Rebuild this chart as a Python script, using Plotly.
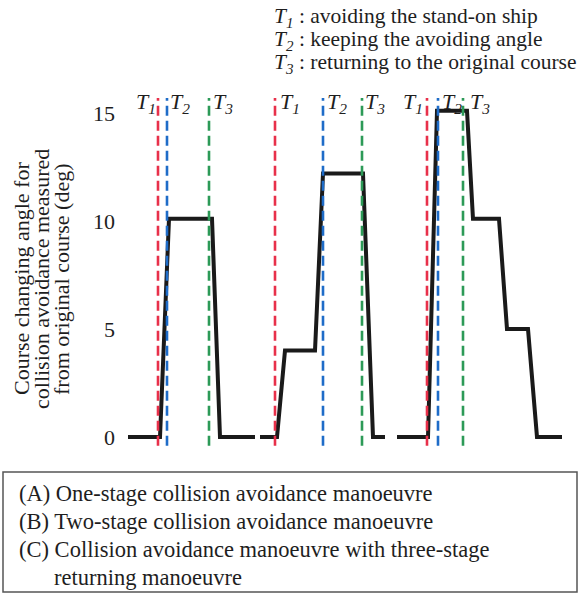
import plotly.graph_objects as go

# Course-change profiles (time in arbitrary units, angle in degrees)
time_a = [1.0, 4.2, 5.1, 9.4, 10.2, 13.7]
angle_a = [0, 0, 10.1, 10.1, 0, 0]

time_b = [14.2, 15.9, 16.7, 19.7, 20.5, 24.5, 25.5, 26.7]
angle_b = [0, 0, 4.0, 4.0, 12.2, 12.2, 0, 0]

time_c = [27.9, 31.0, 31.9, 34.9, 35.5, 38.1, 38.9, 41.0, 41.9, 44.4]
angle_c = [0, 0, 15.1, 15.1, 10.1, 10.1, 5.0, 5.0, 0, 0]

# Event times T1, T2, T3 for each manoeuvre
t1_times = [4.0, 15.7, 30.9]
t2_times = [4.9, 20.5, 32.0]
t3_times = [9.1, 24.4, 34.5]

y_ticks = [0, 5, 10, 15]
panel_labels = ["(A)", "(B)", "(C)"]
panel_centres = [6.7, 21.4, 36.0]

legend_lines = [
    "<i>T</i><sub><i>1</i></sub> : avoiding the stand-on ship",
    "<i>T</i><sub><i>2</i></sub> : keeping the avoiding angle",
    "<i>T</i><sub><i>3</i></sub> : returning to the original course",
]
caption_lines = [
    "(A) One-stage collision avoidance manoeuvre",
    "(B) Two-stage collision avoidance manoeuvre",
    "(C) Collision avoidance manoeuvre with three-stage",
    "returning manoeuvre",
]
caption_indent = [0, 0, 0, 35]
y_title_lines = [
    "Course changing angle for",
    "collision avoidance measured",
    "from original course (deg)",
]

W, H = 579, 595
M_L, M_R, M_T, M_B = 118, 0, 90, 145
PW, PH = W - M_L - M_R, H - M_T - M_B

SERIF = "Liberation Serif, Times New Roman, serif"
SANS = "Liberation Sans, Arial, sans-serif"
INK = "#1e1e1e"
RED, BLUE, GREEN = "#e8304a", "#1e6cc8", "#2c9a57"


def px_x(p):
    return (p - M_L) / PW


def px_y(p):
    return (H - M_B - p) / PH


fig = go.Figure()
for t, a in [(time_a, angle_a), (time_b, angle_b), (time_c, angle_c)]:
    fig.add_trace(go.Scatter(x=t, y=a, mode="lines",
                             line=dict(color="#1a1a1a", width=4),
                             showlegend=False, hoverinfo="skip"))

shapes = []
for times, col in [(t1_times, RED), (t2_times, BLUE), (t3_times, GREEN)]:
    for t in times:
        shapes.append(dict(type="line", xref="x", yref="y", x0=t, x1=t,
                           y0=-0.4, y1=15.7,
                           line=dict(color=col, width=2.6, dash="10px,5px")))

# caption frame
shapes.append(dict(type="rect", xref="paper", yref="paper",
                   x0=px_x(3), x1=px_x(577), y0=px_y(592), y1=px_y(472),
                   line=dict(color="#555555", width=1.5)))

ann = []
t_label_y = 15.45
tf = dict(family=SERIF, size=22, color=INK)
t1_txt = "<i>T</i><sub><i>1</i></sub>"
t2_txt = "<i>T</i><sub><i>2</i></sub>"
t3_txt = "<i>T</i><sub><i>3</i></sub>"
# T-labels for (A)
ann.append(dict(x=t1_times[0], y=t_label_y, text=t1_txt, xanchor="right", xshift=0))
ann.append(dict(x=t2_times[0], y=t_label_y, text=t2_txt, xanchor="left", xshift=1))
ann.append(dict(x=t3_times[0], y=t_label_y, text=t3_txt, xanchor="left", xshift=2))
# T-labels for (B)
ann.append(dict(x=t1_times[1], y=t_label_y, text=t1_txt, xanchor="left", xshift=3))
ann.append(dict(x=t2_times[1], y=t_label_y, text=t2_txt, xanchor="left", xshift=2))
ann.append(dict(x=t3_times[1], y=t_label_y, text=t3_txt, xanchor="left", xshift=1))
# T-labels for (C)
ann.append(dict(x=t1_times[2], y=t_label_y, text=t1_txt, xanchor="right", xshift=-2))
ann.append(dict(x=t2_times[2], y=t_label_y, text=t2_txt, xanchor="left", xshift=2))
ann.append(dict(x=t3_times[2], y=t_label_y, text=t3_txt, xanchor="left", xshift=5))
for a in ann:
    a.update(xref="x", yref="y", yanchor="middle", showarrow=False, font=tf)

for lab, xc in zip(panel_labels, panel_centres):
    ann.append(dict(x=xc, y=-0.95, xref="x", yref="y", text=lab,
                    showarrow=False, xanchor="center", yanchor="middle",
                    font=dict(family=SANS, size=23, color=INK)))

for i, line in enumerate(legend_lines):
    ann.append(dict(x=px_x(272), y=px_y(17 + 23 * i), xref="paper", yref="paper",
                    text=line, showarrow=False, xanchor="left", yanchor="middle",
                    font=dict(family=SERIF, size=21.5, color=INK)))

for i, (line, ind) in enumerate(zip(caption_lines, caption_indent)):
    ann.append(dict(x=px_x(17 + ind), y=px_y(493 + 28 * i), xref="paper", yref="paper",
                    text=line, showarrow=False,
                    xanchor="left", yanchor="middle",
                    font=dict(family=SERIF, size=22.5, color=INK)))

for i, line in enumerate(y_title_lines):
    ann.append(dict(x=px_x(21 + 20 * i), y=px_y(279), xref="paper", yref="paper",
                    text=line, showarrow=False, textangle=-90,
                    xanchor="center", yanchor="middle",
                    font=dict(family=SERIF, size=22, color=INK)))

fig.update_layout(
    width=W, height=H,
    margin=dict(l=M_L, r=M_R, t=M_T, b=M_B),
    paper_bgcolor="white", plot_bgcolor="white",
    xaxis=dict(range=[0, PW / 10], visible=False),
    yaxis=dict(range=[(437 - (H - M_B)) / 21.6, (437 - M_T) / 21.6],
               tickvals=y_ticks, ticktext=[str(v) for v in y_ticks],
               showgrid=False, zeroline=False, showline=False, ticks="",
               ticklabelstandoff=2,
               tickfont=dict(family=SERIF, size=22, color=INK)),
    shapes=shapes, annotations=ann,
)

fig.write_html("out.html")
